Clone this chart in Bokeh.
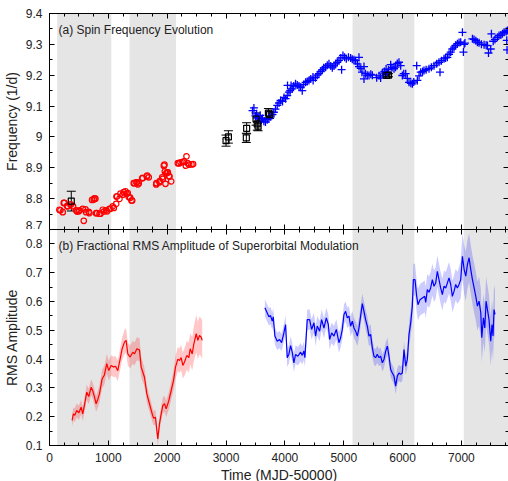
from bokeh.plotting import figure
from bokeh.layouts import column
from bokeh.models import (Range1d, LinearAxis, SingleIntervalTicker, CustomJSTickFormatter,
                          Label, Whisker, TeeHead, ColumnDataSource, BoxAnnotation)
from bokeh.embed import file_html
from bokeh.resources import INLINE

# ---------------- data ----------------
shade_start = [130, 1360, 5150, 7040]
shade_end = [1050, 2150, 6200, 7800]

red_t = [168, 185, 225, 242, 253, 299, 310, 355, 367, 401, 452, 469, 497, 508, 565, 582, 611, 622,
         667, 679, 724, 752, 764, 780, 792, 809, 849, 866, 905, 923, 962, 980, 1019, 1036, 1075, 1093,
         1133, 1138, 1150, 1189, 1206, 1245, 1262, 1291, 1310, 1330, 1347, 1371, 1393, 1405,
         1432, 1444, 1478, 1483, 1506, 1517, 1575, 1585, 1653, 1660, 1687, 1813, 1818, 1869, 1875,
         1915, 1926, 1943, 1954, 1960, 1971, 1983, 2000, 2011, 2029, 2039, 2068, 2181, 2200, 2226,
         2260, 2283, 2317, 2328, 2350, 2373, 2413, 2440]
red_f = [8.764, 8.762, 8.756, 8.786, 8.786, 8.776, 8.775, 8.781, 8.781, 8.775, 8.762, 8.758, 8.759,
         8.762, 8.767, 8.728, 8.765, 8.756, 8.757, 8.753, 8.796, 8.797, 8.801, 8.800, 8.753, 8.753,
         8.751, 8.751, 8.764, 8.758, 8.762, 8.759, 8.767, 8.767, 8.775, 8.770, 8.783, 8.807, 8.807,
         8.799, 8.816, 8.813, 8.821, 8.824, 8.816, 8.818, 8.805, 8.803, 8.794, 8.794,
         8.850, 8.850, 8.853, 8.853, 8.846, 8.850, 8.866, 8.867, 8.872, 8.875, 8.869, 8.846, 8.850,
         8.853, 8.857, 8.869, 8.864, 8.907, 8.910, 8.888, 8.848, 8.882, 8.885, 8.885, 8.873, 8.872,
         8.856, 8.915, 8.914, 8.918, 8.918, 8.921, 8.907, 8.937, 8.915, 8.910, 8.911, 8.912]

blue_t = [3450, 3474, 3500, 3520, 3540, 3558, 3580, 3600, 3620, 3643, 3670, 3700, 3728, 3760, 3790,
          3813, 3840, 3870, 3900, 3927, 3960, 3985, 4012, 4040, 4045, 4068, 4090, 4105, 4125, 4150,
          4181, 4210, 4240, 4267, 4295, 4320, 4352, 4380, 4409, 4440, 4477, 4480, 4520, 4550, 4579,
          4610, 4636, 4660, 4692, 4720, 4749, 4780, 4806, 4835, 4862, 4890, 4919, 4964, 4950, 4987,
          5015, 5044, 5080, 5117, 5145, 5174, 5200, 5231, 5259, 5260, 5290, 5310, 5344, 5344, 5370,
          5400, 5429, 5460, 5486, 5560, 5600, 5627, 5656, 5690, 5720, 5741, 5760, 5798, 5820, 5854,
          5880, 5910, 5939, 5968, 5996, 6020, 6053, 6080, 6109, 6140, 6166, 6190, 6240, 6251, 6280,
          6308, 6340, 6364, 6400, 6449, 6490, 6534, 6580, 6619, 6636, 6660, 6704, 6730, 6761, 6790,
          6818, 6845, 6874, 6900, 6932, 6960, 6988, 7017, 7034, 7046, 7060, 7187, 7214, 7245, 7272,
          7300, 7340, 7385, 7420, 7442, 7460, 7498, 7510, 7540, 7570, 7612, 7639, 7670, 7697, 7725,
          7760, 7782, 7770, 7775]
blue_f = [9.085, 9.094, 9.068, 9.075, 9.062, 9.059, 9.070, 9.055, 9.060, 9.051, 9.048, 9.056, 9.059,
          9.065, 9.072, 9.080, 9.090, 9.102, 9.110, 9.118, 9.115, 9.128, 9.124, 9.134, 9.167, 9.145,
          9.150, 9.167, 9.156, 9.165, 9.172, 9.168, 9.165, 9.161, 9.150, 9.170, 9.177, 9.180, 9.183,
          9.188, 9.194, 9.183, 9.192, 9.200, 9.205, 9.212, 9.218, 9.224, 9.226, 9.232, 9.237, 9.230,
          9.224, 9.230, 9.237, 9.242, 9.248, 9.218, 9.256, 9.264, 9.258, 9.253, 9.258, 9.256, 9.252,
          9.250, 9.247, 9.237, 9.258, 9.228, 9.222, 9.210, 9.228, 9.188, 9.205, 9.200, 9.199, 9.203,
          9.200, 9.192, 9.198, 9.191, 9.207, 9.212, 9.220, 9.210, 9.218, 9.234, 9.225, 9.221, 9.226,
          9.238, 9.242, 9.231, 9.199, 9.205, 9.205, 9.190, 9.177, 9.174, 9.172, 9.178, 9.231, 9.183,
          9.198, 9.210, 9.212, 9.215, 9.218, 9.221, 9.226, 9.231, 9.237, 9.242, 9.210, 9.247, 9.253,
          9.256, 9.258, 9.268, 9.275, 9.285, 9.291, 9.297, 9.302, 9.306, 9.307, 9.339, 9.275, 9.300,
          9.304, 9.318, 9.316, 9.312, 9.307, 9.305, 9.300, 9.299, 9.297, 9.296, 9.272, 9.285, 9.334,
          9.310, 9.316, 9.323, 9.329, 9.330, 9.334, 9.339, 9.342, 9.345, 9.313, 9.282]

sq_t = [370, 3000, 3040, 3350, 3345, 3510, 3530, 3545, 3720, 3740, 5730, 5760]
sq_f = [8.792, 8.988, 9.000, 9.028, 8.997, 9.058, 9.042, 9.035, 9.077, 9.072, 9.199, 9.200]
sq_err = [0.032, 0.018, 0.020, 0.018, 0.015, 0.020, 0.020, 0.015, 0.015, 0.012, 0.005, 0.005]

rms_red_t = [384, 406, 430, 463, 497, 537, 565, 594, 633, 667, 707, 735, 765, 792, 820, 850, 894, 933,
             973, 1007, 1047, 1087, 1122, 1160, 1200, 1235, 1274, 1302, 1331, 1370, 1416, 1445, 1484,
             1529, 1558, 1585, 1614, 1654, 1699, 1745, 1768, 1801, 1824, 1841, 1869, 1898, 1926, 1955,
             1983, 2028, 2068, 2108, 2141, 2181, 2209, 2237, 2266, 2294, 2334, 2368, 2391, 2425, 2453,
             2493, 2521, 2549, 2578, 2595]
rms_red = [0.187, 0.210, 0.205, 0.222, 0.213, 0.233, 0.210, 0.240, 0.285, 0.270, 0.302, 0.290, 0.268,
           0.245, 0.260, 0.280, 0.331, 0.345, 0.384, 0.360, 0.378, 0.373, 0.375, 0.360, 0.400, 0.436,
           0.459, 0.465, 0.418, 0.407, 0.424, 0.418, 0.436, 0.432, 0.372, 0.355, 0.337, 0.279, 0.245,
           0.210, 0.195, 0.198, 0.152, 0.123, 0.175, 0.210, 0.239, 0.245, 0.227, 0.256, 0.291, 0.326,
           0.372, 0.400, 0.395, 0.405, 0.378, 0.390, 0.413, 0.405, 0.436, 0.418, 0.453, 0.488, 0.465,
           0.482, 0.476, 0.465]
rms_red_err = [0.022, 0.022, 0.024, 0.024, 0.025, 0.025, 0.025, 0.026, 0.027, 0.027, 0.028, 0.028,
               0.028, 0.028, 0.029, 0.030, 0.032, 0.033, 0.034, 0.034, 0.035, 0.035, 0.036, 0.036,
               0.038, 0.040, 0.042, 0.042, 0.040, 0.040, 0.040, 0.040, 0.040, 0.040, 0.036, 0.034,
               0.032, 0.030, 0.028, 0.026, 0.025, 0.025, 0.024, 0.024, 0.025, 0.026, 0.028, 0.028,
               0.028, 0.030, 0.032, 0.035, 0.040, 0.042, 0.042, 0.045, 0.045, 0.048, 0.050, 0.052,
               0.055, 0.058, 0.060, 0.065, 0.065, 0.066, 0.066, 0.066]

rms_blue_t = [3660, 3700, 3728, 3756, 3785, 3802, 3830, 3870, 3910, 3944, 3983, 4012, 4040, 4068, 4097,
              4125, 4153, 4181, 4221, 4267, 4295, 4323, 4340, 4380, 4420, 4454, 4494, 4522, 4550, 4590,
              4624, 4664, 4704, 4738, 4760, 4795, 4834, 4874, 4919, 4947, 4976, 5004, 5032, 5060, 5089,
              5117, 5146, 5174, 5202, 5231, 5259, 5287, 5316, 5344, 5372, 5401, 5429, 5457, 5486, 5514,
              5542, 5570, 5599, 5627, 5656, 5684, 5712, 5741, 5769, 5798, 5826, 5854, 5882, 5911, 5939,
              5968, 5996, 6024, 6053, 6081, 6109, 6138, 6166, 6183, 6211, 6240, 6262, 6296, 6336, 6376,
              6393, 6421, 6449, 6477, 6506, 6534, 6562, 6591, 6619, 6647, 6676, 6704, 6733, 6761, 6789,
              6818, 6846, 6874, 6903, 6931, 6959, 6988, 7017, 7046, 7074, 7102, 7130, 7159, 7187, 7216,
              7244, 7272, 7300, 7329, 7346, 7374, 7397, 7419, 7442, 7469, 7498, 7520, 7537, 7554, 7571]
rms_blue = [0.578, 0.560, 0.547, 0.551, 0.532, 0.547, 0.480, 0.462, 0.468, 0.457, 0.491, 0.520, 0.405,
            0.417, 0.447, 0.424, 0.387, 0.416, 0.410, 0.424, 0.413, 0.428, 0.405, 0.537, 0.537, 0.503,
            0.526, 0.480, 0.515, 0.497, 0.537, 0.508, 0.543, 0.520, 0.468, 0.491, 0.480, 0.503, 0.457,
            0.474, 0.503, 0.555, 0.566, 0.543, 0.549, 0.514, 0.532, 0.508, 0.497, 0.480, 0.508, 0.549,
            0.593, 0.566, 0.537, 0.514, 0.480, 0.486, 0.439, 0.410, 0.405, 0.417, 0.405, 0.410, 0.387,
            0.399, 0.427, 0.445, 0.410, 0.364, 0.352, 0.341, 0.306, 0.341, 0.352, 0.347, 0.352, 0.433,
            0.375, 0.399, 0.485, 0.526, 0.584, 0.676, 0.676, 0.618, 0.589, 0.606, 0.612, 0.618, 0.597,
            0.641, 0.632, 0.647, 0.676, 0.653, 0.664, 0.705, 0.676, 0.647, 0.624, 0.653, 0.647, 0.664,
            0.682, 0.659, 0.618, 0.635, 0.659, 0.647, 0.659, 0.676, 0.757, 0.711, 0.688, 0.728, 0.752,
            0.711, 0.676, 0.647, 0.618, 0.584, 0.601, 0.561, 0.474, 0.543, 0.508, 0.601, 0.572, 0.537,
            0.462, 0.520, 0.480, 0.572, 0.555]
rms_blue_err = [0.030, 0.030, 0.030, 0.030, 0.030, 0.030, 0.030, 0.030, 0.030, 0.030, 0.030, 0.032,
                0.032, 0.032, 0.032, 0.032, 0.032, 0.032, 0.032, 0.032, 0.032, 0.032, 0.032, 0.035,
                0.035, 0.035, 0.035, 0.035, 0.035, 0.035, 0.035, 0.035, 0.035, 0.035, 0.035, 0.035,
                0.035, 0.035, 0.035, 0.035, 0.035, 0.035, 0.035, 0.035, 0.035, 0.035, 0.035, 0.035,
                0.035, 0.035, 0.035, 0.035, 0.035, 0.035, 0.035, 0.035, 0.035, 0.035, 0.032, 0.030,
                0.030, 0.030, 0.030, 0.030, 0.030, 0.030, 0.030, 0.030, 0.030, 0.028, 0.028, 0.028,
                0.028, 0.028, 0.028, 0.028, 0.028, 0.030, 0.030, 0.032, 0.040, 0.045, 0.050, 0.055,
                0.055, 0.055, 0.055, 0.055, 0.055, 0.055, 0.055, 0.055, 0.055, 0.055, 0.055, 0.055,
                0.055, 0.055, 0.055, 0.055, 0.055, 0.055, 0.055, 0.055, 0.055, 0.055, 0.055, 0.055,
                0.055, 0.055, 0.060, 0.065, 0.080, 0.085, 0.085, 0.085, 0.085, 0.085, 0.085, 0.085,
                0.085, 0.085, 0.085, 0.085, 0.085, 0.085, 0.085, 0.085, 0.085, 0.085, 0.085, 0.085,
                0.085, 0.085, 0.085, 0.085]

# ---------------- styling helpers ----------------
FONT = "Liberation Sans"
TXT = "#222222"
X_END = 7800

x_range = Range1d(0, X_END)


def style_axis(ax, labels=True):
    ax.axis_line_color = "black"
    ax.axis_line_width = 1
    ax.major_tick_in = 5
    ax.major_tick_out = 0
    ax.minor_tick_in = 3
    ax.minor_tick_out = 0
    ax.major_tick_line_color = "black"
    ax.minor_tick_line_color = "black"
    if labels:
        ax.major_label_text_font = FONT
        ax.major_label_text_font_size = "12px"
        ax.major_label_text_color = TXT
        ax.axis_label_text_font = FONT
        ax.axis_label_text_font_size = "14px"
        ax.axis_label_text_font_style = "normal"
        ax.axis_label_text_color = TXT
    else:
        ax.major_label_text_font_size = "0px"
        ax.major_label_standoff = 0
        ax.formatter = CustomJSTickFormatter(code="return ''")


def x_ticker():
    return SingleIntervalTicker(interval=1000, num_minor_ticks=4)


def y_ticker():
    return SingleIntervalTicker(interval=0.1, num_minor_ticks=2)


yfmt = "return String(Math.round(tick*10)/10)"


def make_fig(y0, y1, top, bottom_labels):
    p = figure(frame_width=459, frame_height=216, x_range=x_range, y_range=Range1d(y0, y1),
               output_backend="svg", toolbar_location=None,
               x_axis_location=None, y_axis_location=None,
               min_border_left=41, min_border_right=0,
               min_border_top=13 if top else 0, min_border_bottom=0)
    p.grid.visible = False
    p.outline_line_color = None
    p.background_fill_color = "white"
    for s, e in zip(shade_start, shade_end):
        p.add_layout(BoxAnnotation(left=s, right=e, fill_color="#e5e5e5", fill_alpha=1.0,
                                   line_color=None, level="underlay"))
    ly = LinearAxis(ticker=y_ticker(), formatter=CustomJSTickFormatter(code=yfmt))
    style_axis(ly)
    ly.major_label_standoff = 7
    ly.axis_label_standoff = 3
    p.add_layout(ly, "left")
    ry = LinearAxis(ticker=y_ticker())
    style_axis(ry, labels=False)
    p.add_layout(ry, "right")
    ax_top = LinearAxis(ticker=x_ticker())
    style_axis(ax_top, labels=False)
    p.add_layout(ax_top, "above")
    bx = LinearAxis(ticker=x_ticker())
    style_axis(bx, labels=bottom_labels)
    if bottom_labels:
        bx.major_label_standoff = 7
        bx.axis_label_standoff = 2
    p.add_layout(bx, "below")
    return p, ly, bx


# ---------------- top panel ----------------
p1, ly1, _ = make_fig(8.7, 9.4, True, False)
ly1.axis_label = "Frequency (1/d)"

p1.scatter(red_t, red_f, marker="circle", size=5.5, fill_color=None, line_color="red", line_width=1.2)
p1.scatter(blue_t, blue_f, marker="cross", size=8, line_color="blue", line_width=1.3)

sq_src = ColumnDataSource(dict(t=sq_t, f=sq_f,
                               lo=[f - e for f, e in zip(sq_f, sq_err)],
                               hi=[f + e for f, e in zip(sq_f, sq_err)]))
p1.add_layout(Whisker(base="t", lower="lo", upper="hi", source=sq_src, line_color="black",
                      line_width=1,
                      upper_head=TeeHead(size=9, line_color="black", line_width=1),
                      lower_head=TeeHead(size=9, line_color="black", line_width=1)))
p1.scatter("t", "f", source=sq_src, marker="square", size=6, fill_color=None,
           line_color="black", line_width=1.2)

p1.add_layout(Label(x=9, y=200, x_units="screen", y_units="screen",
                    text="(a) Spin Frequency Evolution", text_font=FONT, text_font_size="12px",
                    text_color=TXT, text_baseline="middle"))

# ---------------- bottom panel ----------------
p2, ly2, bx2 = make_fig(0.1, 0.85, False, True)
ly2.axis_label = "RMS Amplitude"
bx2.axis_label = "Time (MJD-50000)"

p2.varea(x=rms_red_t, y1=[a - e for a, e in zip(rms_red, rms_red_err)],
         y2=[a + e for a, e in zip(rms_red, rms_red_err)], fill_color="red", fill_alpha=0.22)
p2.line(rms_red_t, rms_red, line_color="red", line_width=1.2)

p2.varea(x=rms_blue_t, y1=[a - e for a, e in zip(rms_blue, rms_blue_err)],
         y2=[a + e for a, e in zip(rms_blue, rms_blue_err)], fill_color="blue", fill_alpha=0.2)
p2.line(rms_blue_t, rms_blue, line_color="blue", line_width=1.2)

p2.add_layout(Label(x=9, y=200, x_units="screen", y_units="screen",
                    text="(b) Fractional RMS Amplitude of Superorbital Modulation",
                    text_font=FONT, text_font_size="12px", text_color=TXT,
                    text_baseline="middle"))

layout = column(p1, p2, spacing=0)

open("out.html", "w").write(file_html(layout, INLINE))
